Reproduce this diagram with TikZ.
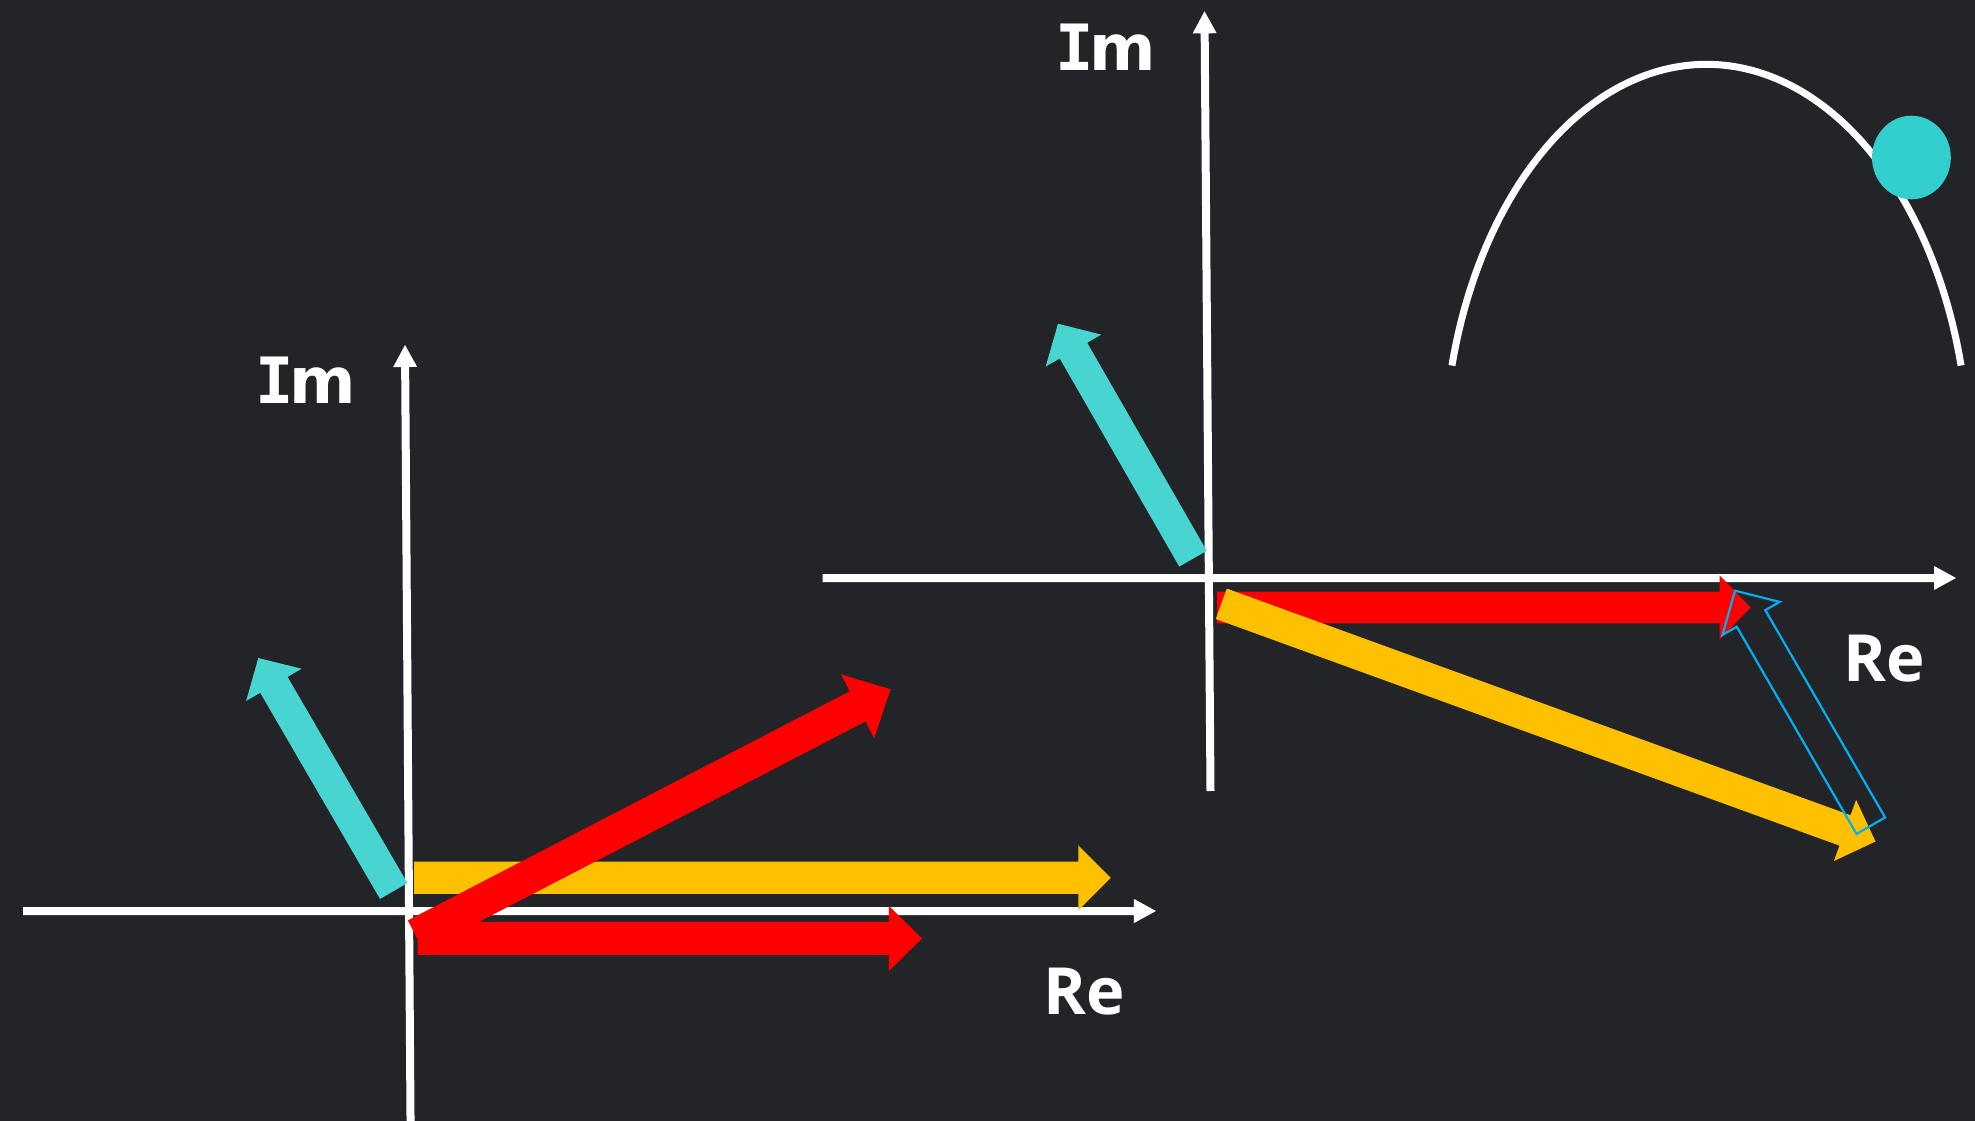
\documentclass[tikz,border=0pt]{standalone}
\usepackage{fontspec}
\usetikzlibrary{calc}
\newfontfamily\djsans{DejaVu Sans}
\newfontfamily\djmono{DejaVu Sans Mono}
\newfontfamily\osans{Open Sans}
\definecolor{bg}{RGB}{35,36,40}
\definecolor{vcyan}{RGB}{72,212,208}
\definecolor{dotcyan}{RGB}{51,206,206}
\definecolor{vred}{RGB}{255,0,0}
\definecolor{vyellow}{RGB}{255,192,0}
\definecolor{vblue}{RGB}{0,176,240}
% #1 style, #2 tail, #3 tip, #4 half shaft, #5 half head, #6 head length
\newcommand{\mkvec}[6]{%
  \coordinate (#2-#3-h) at ($(#3)!#6!(#2)$);
  \path[#1] ($(#2)!#4!90:(#3)$) -- ($(#2-#3-h)!#4!90:(#3)$) -- ($(#2-#3-h)!#5!90:(#3)$)
    -- (#3) -- ($(#2-#3-h)!#5!-90:(#3)$) -- ($(#2-#3-h)!#4!-90:(#3)$) -- ($(#2)!#4!-90:(#3)$) -- cycle;
}
\newcommand{\imtext}{{\djmono\bfseries I}\kern-1.2pt{\djsans\bfseries m}}
\begin{document}
\begin{tikzpicture}[x=0.01cm,y=-0.01cm,
  axisfill/.style={fill=white},
  cyanvec/.style={fill=vcyan},
  redvec/.style={fill=vred},
  yellowvec/.style={fill=vyellow},
  outlinevec/.style={draw=vblue,line width=0.022cm,line join=miter},
  arcline/.style={draw=white,line width=0.07cm},
  lbl/.style={text=white,inner sep=0pt,anchor=base},
  imfont/.style={font=\fontsize{18.15pt}{20pt}\selectfont},
  refont/.style={font=\osans\bfseries\fontsize{18.5pt}{20pt}\selectfont}]
\fill[bg] (0,0) rectangle (1975,1121);
\useasboundingbox (0,0) rectangle (1975,1121);

% ---- left axes
\coordinate (lxs) at (23,911);
\coordinate (lxe) at (1156,911);
\coordinate (lys) at (410.6,1130);
\coordinate (lye) at (405,345);
\mkvec{axisfill}{lxs}{lxe}{0.04cm}{0.12cm}{0.22cm}
\mkvec{axisfill}{lys}{lye}{0.04cm}{0.12cm}{0.22cm}

% ---- right axes
\coordinate (rxs) at (822.5,578);
\coordinate (rxe) at (1956,578);
\coordinate (rys) at (1210.5,791);
\coordinate (rye) at (1204.5,11.3);
\mkvec{axisfill}{rxs}{rxe}{0.04cm}{0.12cm}{0.22cm}
\mkvec{axisfill}{rys}{rye}{0.04cm}{0.12cm}{0.22cm}

% ---- labels
\node[lbl,imfont] (imL) at (306,403) {\imtext};
\node[lbl,imfont] (imR) at (1106,70.5) {\imtext};
\node[lbl,refont] (reL) at (1084.5,1014) {Re};
\node[lbl,refont] (reR) at (1884.5,681.7) {Re};

% ---- left vectors
\coordinate (cLa) at (393.7,891);
\coordinate (cLb) at (258.3,658);
\mkvec{cyanvec}{cLa}{cLb}{0.158cm}{0.32cm}{0.31cm}
\coordinate (yLa) at (414,877.8);
\coordinate (yLb) at (1110.7,877.8);
\mkvec{yellowvec}{yLa}{yLb}{0.1615cm}{0.325cm}{0.324cm}
\coordinate (rhLa) at (417.7,938.4);
\coordinate (rhLb) at (922,938.4);
\mkvec{redvec}{rhLa}{rhLb}{0.165cm}{0.325cm}{0.33cm}
\coordinate (rdLa) at (415.7,935.5);
\coordinate (rdLb) at (890.5,689.3);
\mkvec{redvec}{rdLa}{rdLb}{0.17cm}{0.36cm}{0.37cm}

% ---- right vectors
\coordinate (cRa) at (1193,558.7);
\coordinate (cRb) at (1058,323.7);
\mkvec{cyanvec}{cRa}{cRb}{0.158cm}{0.32cm}{0.31cm}
\coordinate (rRa) at (1217,607.5);
\coordinate (rRb) at (1750.7,607.5);
\mkvec{redvec}{rRa}{rRb}{0.158cm}{0.32cm}{0.31cm}
\coordinate (yRa) at (1221.3,603.8);
\coordinate (yRb) at (1875.5,841.5);
\mkvec{yellowvec}{yRa}{yRb}{0.1615cm}{0.325cm}{0.324cm}
\coordinate (bRa) at (1870.8,825.7);
\coordinate (bRb) at (1735,590.7);
\mkvec{outlinevec}{bRa}{bRb}{0.165cm}{0.33cm}{0.32cm}

% ---- arc and dot
\draw[arcline] plot[domain=-14.3:-165.7,samples=90,smooth] ({1706.5+262.7*cos(\x)},{464.3+400*sin(\x)});
\fill[dotcyan] (1911.4,157.5) ellipse [x radius=39.4, y radius=41.8];
\end{tikzpicture}
\end{document}
